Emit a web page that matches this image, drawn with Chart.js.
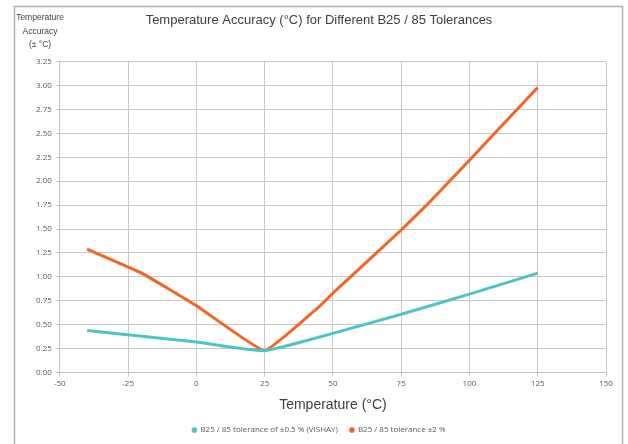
<!DOCTYPE html>
<html lang="en">
<head>
    <meta charset="UTF-8">
    <title>Temperature Accuracy</title>
    <script src="https://cdn.jsdelivr.net/npm/chart.js"></script>
    <style>
        html, body { margin: 0; padding: 0; background: #fff; }
        #myChart { display: block; }
    </style>
</head>
<body>
    <canvas id="myChart" width="628" height="444"></canvas>

    <script>
        // data
        const vishayTemps = [-40, 0, 25, 50, 75, 100, 125];
        const vishayValues = [0.44, 0.32, 0.23, 0.41, 0.61, 0.82, 1.04];
        const tol2Temps = [-40, -20, 0, 25, 45, 50, 75, 85, 100, 125];
        const tol2Values = [1.29, 1.04, 0.70, 0.23, 0.69, 0.83, 1.49, 1.77, 2.22, 2.98];
        const seriesNames = ['B25 / 85 tolerance of \u00b10.5 % (VISHAY)', 'B25 / 85 tolerance \u00b12 %'];
        const yTitleLines = ['Temperature', 'Accuracy', '(\u00b1 \u00b0C)'];

        const toPoints = (xs, ys) => xs.map((x, i) => ({x: x, y: ys[i]}));

        // outer frame + the little y-axis caption in the top-left corner
        const framePlugin = {
            id: 'framePlugin',
            beforeDraw(chart) {
                const {ctx} = chart;
                ctx.save();
                ctx.fillStyle = '#fff';
                ctx.fillRect(0, 0, chart.width, chart.height);
                ctx.strokeStyle = '#b0b0b0';
                ctx.lineWidth = 1.5;
                ctx.strokeRect(14.5, 6.5, 608, 460);
                ctx.restore();
            },
            afterDraw(chart) {
                const {ctx} = chart;
                ctx.save();
                ctx.font = '8.5px "Liberation Sans", Arial, sans-serif';
                ctx.fillStyle = '#404040';
                ctx.textAlign = 'center';
                ctx.textBaseline = 'middle';
                yTitleLines.forEach((t, i) => ctx.fillText(t, 40, 18 + i * 13.5));
                ctx.restore();
            }
        };

        const tickFont = {family: '"Open Sans", "DejaVu Sans", sans-serif', size: 8};

        const config = {
            type: 'line',
            data: {
                datasets: [{
                    label: seriesNames[0],
                    data: toPoints(vishayTemps, vishayValues),
                    borderColor: '#4cc5c4',
                    backgroundColor: '#4cc5c4',
                    borderWidth: 3,
                    pointRadius: 0,
                    tension: 0.15
                }, {
                    label: seriesNames[1],
                    data: toPoints(tol2Temps, tol2Values),
                    borderColor: '#f26522',
                    backgroundColor: '#f26522',
                    borderWidth: 3,
                    pointRadius: 0,
                    tension: 0.1
                }]
            },
            options: {
                responsive: false,
                animation: false,
                layout: {padding: {left: 32, right: 22, top: 4, bottom: 0}},
                scales: {
                    x: {
                        type: 'linear',
                        min: -50, max: 150,
                        ticks: {stepSize: 25, color: '#595959', font: tickFont, padding: 2},
                        grid: {color: '#c8c8c8', tickLength: 4},
                        border: {color: '#c0c0c0'},
                        title: {
                            display: true,
                            text: 'Temperature (\u00b0C)',
                            color: '#404040',
                            font: {family: '"Liberation Sans", Arial, sans-serif', size: 14},
                            padding: {top: 7, bottom: 0}
                        }
                    },
                    y: {
                        min: 0, max: 3.25,
                        ticks: {
                            stepSize: 0.25,
                            color: '#595959',
                            font: tickFont,
                            padding: 4,
                            callback: v => v.toFixed(2)
                        },
                        grid: {color: '#c8c8c8', tickLength: 4},
                        border: {color: '#c0c0c0'}
                    }
                },
                plugins: {
                    title: {
                        display: true,
                        text: 'Temperature Accuracy (\u00b0C) for Different B25 / 85 Tolerances',
                        color: '#404040',
                        font: {family: '"Liberation Sans", Arial, sans-serif', size: 13, weight: 'normal'},
                        padding: {top: 9, bottom: 33}
                    },
                    legend: {
                        position: 'bottom',
                        labels: {
                            usePointStyle: true,
                            pointStyle: 'circle',
                            boxWidth: 4,
                            boxHeight: 4,
                            color: '#595959',
                            font: tickFont,
                            padding: 12,
                            generateLabels(chart) {
                                const items = Chart.defaults.plugins.legend.labels.generateLabels(chart);
                                items.forEach(it => { it.lineWidth = 0; it.strokeStyle = 'transparent'; });
                                return items;
                            }
                        }
                    },
                    tooltip: {enabled: false}
                }
            },
            plugins: [framePlugin]
        };

        new Chart(document.getElementById('myChart').getContext('2d'), config);
    </script>
</body>
</html>
